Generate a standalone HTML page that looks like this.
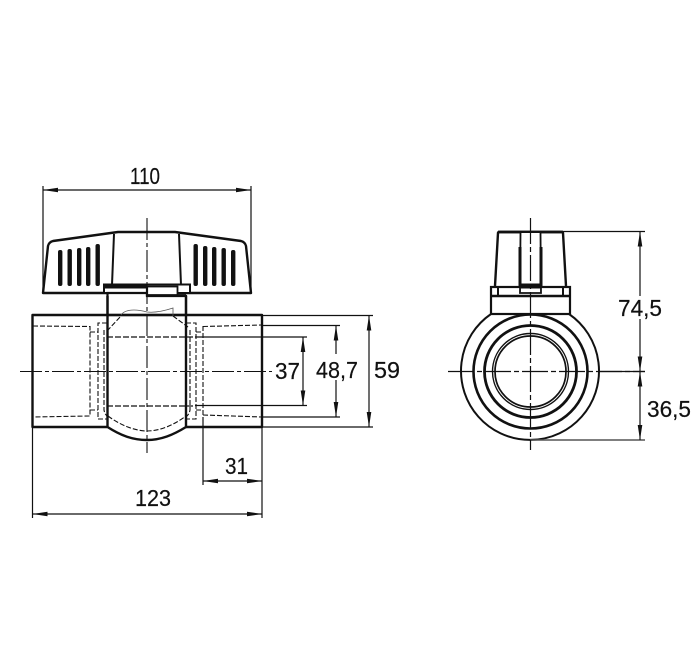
<!DOCTYPE html>
<html><head><meta charset="utf-8"><style>
html,body{margin:0;padding:0;background:#fff}
svg{display:block}
text{font-family:"Liberation Sans",sans-serif;font-size:23.5px;fill:#111;stroke:#111;stroke-width:.2px}
</style></head><body>
<svg width="700" height="657" viewBox="0 0 700 657" xmlns="http://www.w3.org/2000/svg">
<rect width="700" height="657" fill="#fff"/>
<defs>
<marker id="a" markerWidth="15" markerHeight="6" refX="15" refY="3" orient="auto-start-reverse" markerUnits="userSpaceOnUse"><path d="M0,0.700 L15,3 L0,5.300Z" fill="#111"/></marker>
</defs>

<!-- LEFT VIEW: handle -->
<g fill="none" stroke="#111" stroke-linejoin="round">
<path d="M43,293 L48,246 Q49,242 53,241 L118,232 L175,232 L241,241 Q245,242 246,246 L251,293 Z" fill="#fff" stroke-width="2.400"/>
<path d="M114,234 L112,285 M179,234 L181,285" stroke-width="2"/>
</g>
<g fill="#111">
<rect x="58" y="250" width="4.4" height="36" rx="2"/><rect x="67.500" y="249" width="4.400" height="37" rx="2"/><rect x="77" y="248" width="4.400" height="38" rx="2"/><rect x="86" y="247" width="4.400" height="39" rx="2"/><rect x="95.500" y="244" width="4.400" height="42" rx="2"/>
<rect x="193.500" y="244" width="4.400" height="42" rx="2"/><rect x="203" y="246" width="4.400" height="40" rx="2"/><rect x="212" y="247" width="4.400" height="39" rx="2"/><rect x="221.500" y="248" width="4.400" height="38" rx="2"/><rect x="231" y="250" width="4.400" height="36" rx="2"/>
</g>
<!-- stem -->
<g fill="#fff" stroke="#111">
<path d="M104,284.500 H190 V293 H104 Z" stroke-width="2"/>
<path d="M107.500,293 V315 H186 V296 H147 V293 Z" stroke-width="2.200"/>
<rect x="147" y="286.500" width="30.500" height="9" stroke-width="1.800"/>
</g>
<rect x="104" y="284" width="43.500" height="4.500" fill="#111"/>
<line x1="147" y1="286" x2="147" y2="296" stroke="#111" stroke-width="2.200"/>
<line x1="147" y1="295.500" x2="186" y2="295.500" stroke="#111" stroke-width="2.800"/>

<!-- body -->
<g fill="none" stroke="#111" stroke-width="2.400" stroke-linejoin="round">
<path d="M107,315 H32.500 V427 H107"/>
<path d="M186,315 H262 V427 H186"/>
<path d="M107.500,296 V427 C120,435 132,440 147,440 C161,440 173,435 186,427 V296"/>
<path d="M107,315 H186" stroke-width="2.600"/>
</g>
<!-- hidden lines -->
<g fill="none" stroke="#111" stroke-width="1.100" stroke-dasharray="5 2">
<path d="M33,326 L90,326.500 V416 L33,417"/>
<path d="M90,332 H98 M90,410 H98"/>
<path d="M107,323 H98 V419 H107"/>
<path d="M186,323 H196 V419 H186"/>
<path d="M196,332 H203 M196,410 H203"/>
<path d="M203,326.500 L262,325 M203,415 L262,417"/>
<path d="M203,326 V416"/>
<path d="M104,330 V410 Q105,416 110,418 M190,330 V410 Q189,416 184,418"/>
<path d="M107,331 L121,316 M173,316 L188,327"/>
<path d="M108,416 C120,425 135,431 147,431 C160,431 174,425 186,416"/>
</g>
<path d="M107,337 H195 M107,406 H195" fill="none" stroke="#111" stroke-width="1.300" stroke-dasharray="6 2"/>
<path d="M121,315 C125,309 136,309 147,312 C156,313 167,310 173,308 V316" fill="none" stroke="#555" stroke-width="0.800"/>

<!-- dimension / extension -->
<g fill="none" stroke="#111" stroke-width="1.200">
<line x1="43" y1="186" x2="43" y2="293"/><line x1="251" y1="186" x2="251" y2="293"/>
<line x1="43" y1="190" x2="251" y2="190" marker-start="url(#a)" marker-end="url(#a)"/>
<path d="M195,337 H307 M195,405.500 H307"/>
<line x1="303" y1="337" x2="303" y2="405.500" marker-start="url(#a)" marker-end="url(#a)"/>
<path d="M262,325.500 H340 M262,417 H340"/>
<line x1="336" y1="325.500" x2="336" y2="354" marker-start="url(#a)"/>
<line x1="336" y1="380" x2="336" y2="417" marker-end="url(#a)"/>
<path d="M262,315.500 H373 M262,427 H373"/>
<line x1="369" y1="315.500" x2="369" y2="427" marker-start="url(#a)" marker-end="url(#a)"/>
<path d="M203,417 V485 M262,427 V518 M32.500,427 V518"/>
<line x1="203" y1="481" x2="262" y2="481" marker-start="url(#a)" marker-end="url(#a)"/>
<line x1="32.500" y1="514" x2="262" y2="514" marker-start="url(#a)" marker-end="url(#a)"/>
</g>
<!-- centre lines left -->
<g fill="none" stroke="#111" stroke-width="1.100" stroke-dasharray="22 3 4 3">
<line x1="20" y1="371.500" x2="272" y2="371.500"/>
<line x1="147" y1="218" x2="147" y2="453"/>
</g>

<!-- RIGHT VIEW -->
<g fill="none" stroke="#111">
<path d="M491,314 A69,69 0 1 0 569,314" stroke-width="2"/>
<circle cx="530.500" cy="371.500" r="57" stroke-width="2.600"/>
<circle cx="530.500" cy="371.500" r="46" stroke-width="2.800"/>
<circle cx="530.500" cy="371.500" r="38" stroke-width="1.400"/>
<circle cx="530.500" cy="371.500" r="35.500" stroke-width="1.700"/>
<path d="M495,286 L498,233 Q498,232 500,232 H561 Q563,232 563,233 L566,286" stroke-width="2.400" fill="#fff"/>
<path d="M498,232 H563" stroke-width="2.800"/>
<rect x="491" y="287" width="79" height="27" stroke-width="2.200" fill="#fff"/>
<path d="M491,296 H570" stroke-width="2.400"/>
<path d="M498,287 V296 M563,287 V296" stroke-width="2"/>
<path d="M520.500,233 L520,293 H541 L540.500,233" stroke-width="1.800" fill="#fff"/>
<path d="M520,247 V286 M541,247 V286" stroke-width="3"/>
<rect x="520" y="284" width="21" height="4" fill="#111"/>
</g>
<g fill="none" stroke="#111" stroke-width="1.200">
<path d="M563,231.500 H645 M600,371.500 H645"/>
<path d="M530,440 H645" stroke="#555" stroke-width="1.600"/>
<line x1="640" y1="231.500" x2="640" y2="296" marker-start="url(#a)"/>
<line x1="640" y1="319" x2="640" y2="371.500" marker-end="url(#a)"/>
<line x1="640" y1="371.500" x2="640" y2="440" marker-start="url(#a)" marker-end="url(#a)"/>
</g>
<g fill="none" stroke="#111" stroke-width="1.200" stroke-dasharray="26 3 5 3">
<line x1="448" y1="371.500" x2="645" y2="371.500"/>
<line x1="530.500" y1="218" x2="530.500" y2="450"/>
</g>

<!-- labels -->
<text x="130" y="184" textLength="30" lengthAdjust="spacingAndGlyphs">110</text>
<text x="275" y="379" textLength="25" lengthAdjust="spacingAndGlyphs">37</text>
<text x="316" y="378" textLength="42" lengthAdjust="spacingAndGlyphs">48,7</text>
<text x="374" y="378" textLength="26" lengthAdjust="spacingAndGlyphs">59</text>
<text x="225" y="474" textLength="23" lengthAdjust="spacingAndGlyphs">31</text>
<text x="135" y="506" textLength="36" lengthAdjust="spacingAndGlyphs">123</text>
<text x="618" y="316" textLength="44" lengthAdjust="spacingAndGlyphs">74,5</text>
<text x="647" y="417" textLength="44" lengthAdjust="spacingAndGlyphs">36,5</text>
</svg>
</body></html>
